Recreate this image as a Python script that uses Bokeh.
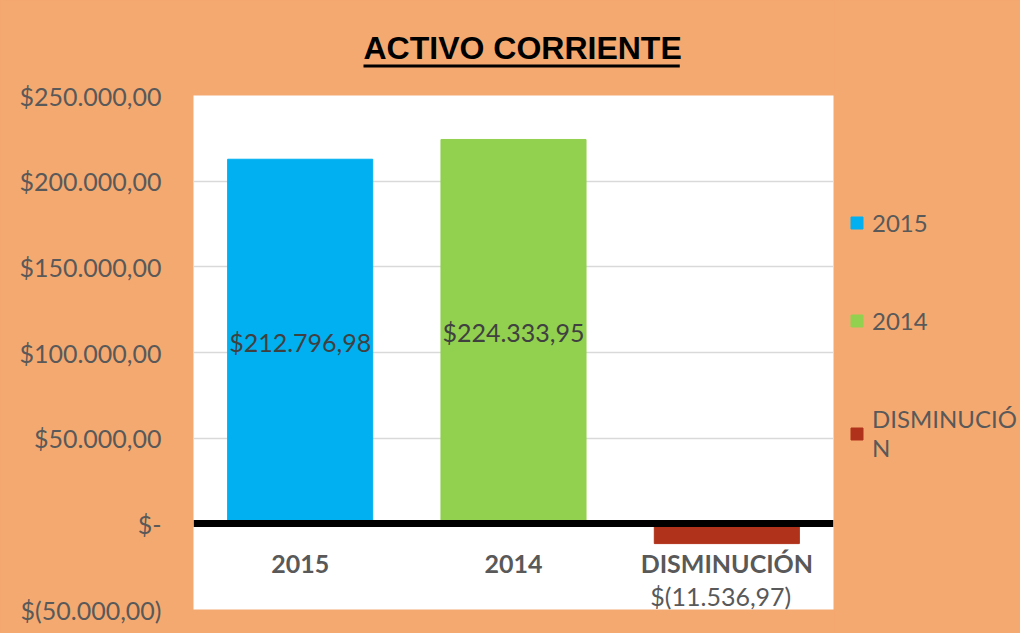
from bokeh.plotting import figure
from bokeh.layouts import row
from bokeh.models import (ColumnDataSource, FixedTicker, Legend, LegendItem,
                          LabelSet, Title, Range1d, FactorRange)
from bokeh.core.properties import value
from bokeh.embed import file_html
from bokeh.resources import INLINE

# ---------------- data ----------------
categories = ["2015", "2014", "DISMINUCIÓN"]
values = [212796.98, 224333.95, -11536.97]
colors = ["#00B0F0", "#92D050", "#B1321A"]
value_labels = ["$212.796,98", "$224.333,95", "$(11.536,97)"]
legend_labels = ["2015", "2014", "DISMINUCIÓ\nN"]
y_ticks = [-50000, 0, 50000, 100000, 150000, 200000, 250000]
y_tick_labels = ["$(50.000,00)", "$-", "$50.000,00", "$100.000,00",
                 "$150.000,00", "$200.000,00", "$250.000,00"]
title_text = "ACTIVO CORRIENTE"

BG = "#F4A971"
TXT = "#595959"

p = figure(x_range=FactorRange(*categories), y_range=Range1d(-50000, 250000),
           width=834, height=633, output_backend="svg", toolbar_location=None,
           min_border_left=193, min_border_right=1, min_border_top=95,
           min_border_bottom=24)
p.background_fill_color = "white"
p.border_fill_color = BG
p.outline_line_color = None

src = ColumnDataSource(dict(cat=categories, val=values, color=colors))
r = p.vbar(x="cat", top="val", bottom=0, width=0.68, color="color", source=src)

# data labels: first two centred inside bars, last one below the axis label
inside = ColumnDataSource(dict(cat=categories[:2], y=[v / 2 for v in values[:2]],
                               txt=value_labels[:2]))
p.add_layout(LabelSet(x="cat", y="y", text="txt", source=inside,
                      text_align="center", text_baseline="middle",
                      text_font=value("Lato"), text_font_size=value("25px"),
                      text_color="#404040"))
below = ColumnDataSource(dict(cat=categories[2:], y=values[2:], txt=value_labels[2:]))
p.add_layout(LabelSet(x="cat", y="y", text="txt", source=below,
                      x_offset=-6, y_offset=-52,
                      text_align="center", text_baseline="middle",
                      text_font=value("Lato"), text_font_size=value("25px"),
                      text_color=TXT))

# y axis
p.yaxis.ticker = FixedTicker(ticks=y_ticks)
p.yaxis.major_label_overrides = dict(zip(y_ticks, y_tick_labels))
p.yaxis.major_label_text_font = "Lato"
p.yaxis.major_label_text_font_size = "25px"
p.yaxis.major_label_text_color = TXT
p.yaxis.axis_line_color = None
p.yaxis.major_tick_line_color = None
p.yaxis.minor_tick_line_color = None
p.yaxis.major_tick_out = 0
p.yaxis.major_tick_in = 0
p.yaxis.major_label_standoff = 32

# x axis crossing at zero
p.xaxis.fixed_location = 0
p.xaxis.axis_line_color = "black"
p.xaxis.axis_line_width = 7
p.xaxis.major_tick_line_color = None
p.xaxis.minor_tick_line_color = None
p.xaxis.major_tick_out = 0
p.xaxis.major_tick_in = 0
p.xaxis.major_label_standoff = 24
p.xaxis.major_label_text_font = "Lato"
p.xaxis.major_label_text_font_style = "bold"
p.xaxis.major_label_text_font_size = "25px"
p.xaxis.major_label_text_color = TXT

p.xgrid.grid_line_color = None
p.ygrid.grid_line_color = "#D9D9D9"
p.ygrid.grid_line_width = 1.5

# spacer between frame and title underline, then the underline (thin black bar)
p.add_layout(Title(text=" ", text_font_size="1px", standoff=25), "above")
p.add_layout(Title(text=" ", align="left", offset=170, text_font_size="1px",
                   background_fill_color="black", background_fill_alpha=1,
                   padding=(158, 1), standoff=0), "above")

# title
p.title.text = title_text
p.title.align = "left"
p.title.offset = 170
p.title.text_font = "Liberation Sans"
p.title.text_font_style = "bold"
p.title.text_font_size = "32px"
p.title.text_color = "black"
p.title.standoff = -6

# legend in a side figure (same orange background); its swatch renderer is
# hidden, the legend only borrows its colours
lf = figure(x_range=FactorRange(*categories), y_range=Range1d(-50000, 250000),
            width=186, height=633, output_backend="svg", toolbar_location=None,
            x_axis_type=None, y_axis_type=None, min_border=0)
lf.background_fill_color = BG
lf.border_fill_color = BG
lf.outline_line_color = BG
lf.outline_line_width = 3
lf.xgrid.visible = False
lf.ygrid.visible = False
swatch = lf.vbar(x="cat", top="val", bottom=0, width=0.68, color="color",
                 source=src, visible=False)
items = [LegendItem(label=lab, renderers=[swatch], index=i)
         for i, lab in enumerate(legend_labels)]
legend = Legend(items=items, location=(15, 147), margin=0, padding=0,
                spacing=69, glyph_width=15, glyph_height=15, label_standoff=8,
                label_text_font="Lato", label_text_font_size="24px",
                label_text_line_height=1.55,
                label_text_color=TXT, background_fill_alpha=0,
                border_line_color=None, inactive_fill_alpha=0)
lf.add_layout(legend)

layout = row(p, lf, spacing=0, styles={"background-color": BG})
open("out.html", "w").write(file_html(layout, INLINE))
